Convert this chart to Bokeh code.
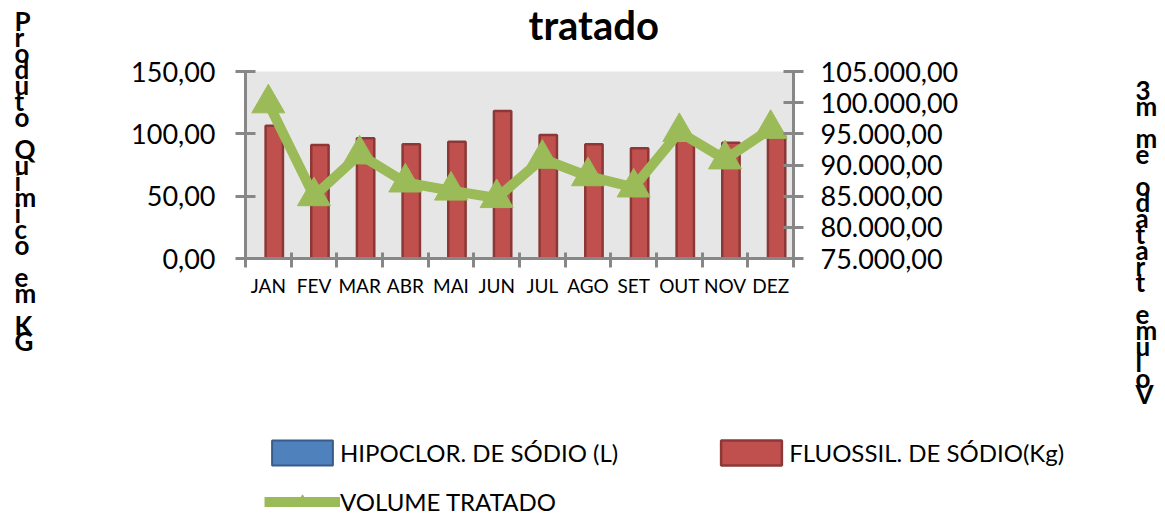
from bokeh.plotting import figure
from bokeh.models import (Range1d, LinearAxis, FixedTicker, CustomJSTickFormatter,
                          Legend, LegendItem, Label, BoxAnnotation)
from bokeh.embed import file_html
from bokeh.resources import INLINE

# ---------------- data ----------------
months = ["JAN", "FEV", "MAR", "ABR", "MAI", "JUN", "JUL", "AGO", "SET", "OUT", "NOV", "DEZ"]
hipoclor = [0, 0, 0, 0, 0, 0, 0, 0, 0, 0, 0, 0]
fluossil = [106.4, 91.0, 96.5, 91.7, 93.6, 118.4, 99.0, 91.7, 88.5, 97.0, 92.8, 98.4]
volume = [99900, 85000, 91700, 87200, 85900, 84700, 91000, 88200, 86400, 95300, 90900, 95800]
left_ticks = [0, 50, 100, 150]
right_ticks = [75000, 80000, 85000, 90000, 95000, 100000, 105000]
title_text = "tratado"
left_title = "Produto Químico em KG"
right_title = "Volume tratado em m3"
series_names = ["HIPOCLOR. DE SÓDIO (L)", "FLUOSSIL. DE SÓDIO(Kg)", "VOLUME TRATADO"]

# ---------------- layout (pixels) ----------------
W, H = 1165, 518
PL, PR, PT, PB = 245, 793, 71, 258          # plot-area box on the canvas
AX = "#878787"
FONT = "Lato"

n = len(months)
y0, y1 = left_ticks[0], left_ticks[-1]
v0, v1 = right_ticks[0], right_ticks[-1]
ppx = (PR - PL) / n
ppy = (PB - PT) / (y1 - y0)
ppv = (PB - PT) / (v1 - v0)

xc = [i + 0.5 for i in range(n)]
bounds = [i for i in range(n + 1)]

p = figure(width=W, height=H, min_border=0,
           x_range=Range1d(-PL / ppx, n + (W - PR) / ppx),
           y_range=Range1d(y0 - (H - PB) / ppy, y1 + PT / ppy),
           output_backend="svg", toolbar_location=None)
p.extra_y_ranges = {"vol": Range1d(v0 - (H - PB) / ppv, v1 + PT / ppv)}
p.background_fill_color = "white"
p.border_fill_color = "white"
p.outline_line_color = None
p.grid.visible = False

# plot-area background
p.add_layout(BoxAnnotation(left=0, right=n, bottom=y0, top=y1, fill_color="#E6E6E6",
                           fill_alpha=1, line_color=None, level="underlay"))

# x axis: labels at centres, ticks at category boundaries
xa = p.xaxis[0]
xa.fixed_location = y0
xa.bounds = (0, n)
xa.ticker = FixedTicker(ticks=xc, minor_ticks=bounds)
xa.formatter = CustomJSTickFormatter(args=dict(m=months), code="return m[Math.floor(tick)] || '';")
xa.major_tick_line_color = None
xa.minor_tick_line_color = AX
xa.minor_tick_line_width = 3
xa.minor_tick_in = 6
xa.minor_tick_out = 9
xa.axis_line_color = AX
xa.axis_line_width = 3
xa.major_label_text_font = FONT
xa.major_label_text_font_size = "19px"
xa.major_label_text_color = "black"
xa.major_label_standoff = 6

ya = p.yaxis[0]
ya.fixed_location = 0
ya.bounds = (y0, y1)
ya.ticker = FixedTicker(ticks=left_ticks)
ya.formatter = CustomJSTickFormatter(code="return tick.toFixed(2).replace('.', ',');")
ya.axis_line_color = AX
ya.axis_line_width = 3
ya.major_tick_line_color = AX
ya.major_tick_line_width = 3
ya.major_tick_in = 10
ya.major_tick_out = 10
ya.minor_tick_line_color = None
ya.major_label_text_font = FONT
ya.major_label_text_font_size = "27px"
ya.major_label_text_color = "black"
ya.major_label_standoff = 20

ra = LinearAxis(y_range_name="vol", fixed_location=n, bounds=(v0, v1),
                ticker=FixedTicker(ticks=right_ticks),
                formatter=CustomJSTickFormatter(code="""
const s = tick.toFixed(2).split('.');
return s[0].replace(/\\B(?=(\\d{3})+(?!\\d))/g, '.') + ',' + s[1];
"""))
ra.axis_line_color = AX
ra.axis_line_width = 3
ra.major_tick_line_color = AX
ra.major_tick_line_width = 3
ra.major_tick_in = 10
ra.major_tick_out = 10
ra.minor_tick_line_color = None
ra.major_label_text_font = FONT
ra.major_label_text_font_size = "27px"
ra.major_label_text_color = "black"
ra.major_label_standoff = 17
p.add_layout(ra, "right")

# ---------------- glyphs ----------------
bw = 0.38
blue = p.vbar(x=[x - 0.13 - bw for x in xc], top=hipoclor, width=bw,
              fill_color="#4F81BD", line_color="#385D8A", line_width=2)
red = p.vbar(x=[x + 0.13 for x in xc], top=fluossil, width=bw,
             fill_color="#C0504D", line_color="#8C3836", line_width=2.5)
vline = p.line(xc, volume, y_range_name="vol", line_color="#9BBB59", line_width=10,
               line_join="round")
tri = p.scatter(xc, volume, y_range_name="vol", marker="triangle", size=33,
                fill_color="#9BBB59", line_color="#9BBB59", line_width=1)

# ---------------- legends ----------------
common = dict(border_line_color=None, background_fill_alpha=0, padding=0, margin=0,
              glyph_width=76, glyph_height=31, label_standoff=-3,
              label_text_font=FONT, label_text_font_size="24px",
              label_text_color="black")
leg1 = Legend(items=[LegendItem(label=series_names[0], renderers=[blue]),
                     LegendItem(label=series_names[1], renderers=[red])],
              orientation="horizontal", spacing=95, location=(264, H - 468), **common)
leg2 = Legend(items=[LegendItem(label=series_names[2], renderers=[vline, tri])],
              orientation="horizontal", location=(264, H - 517), **common)
p.add_layout(leg1)
p.add_layout(leg2)

# ---------------- titles ----------------
p.add_layout(Label(x=528, y=H - 24, x_units="screen", y_units="screen", text=title_text,
                   text_font=FONT, text_font_style="bold", text_font_size="40px",
                   text_align="left", text_baseline="alphabetic", text_color="black"))
p.add_layout(Label(x=14, y=H - 4, x_units="screen", y_units="screen",
                   text="\n".join(left_title), text_line_height=0.5,
                   text_font=FONT, text_font_style="bold", text_font_size="26px",
                   text_align="left", text_baseline="top", text_color="black"))
p.add_layout(Label(x=1135, y=H - 73, x_units="screen", y_units="screen",
                   text="\n".join(reversed(right_title)), text_line_height=0.5,
                   text_font=FONT, text_font_style="bold", text_font_size="26px",
                   text_align="left", text_baseline="top", text_color="black"))

open("out.html", "w").write(file_html(p, INLINE))
